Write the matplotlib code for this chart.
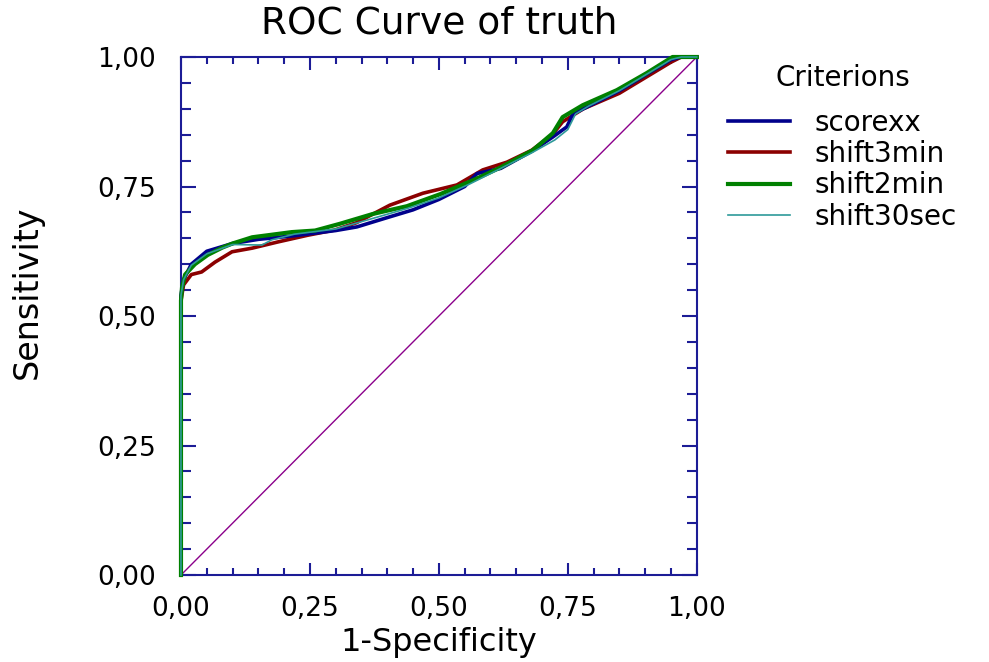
import matplotlib.pyplot as plt
from matplotlib.ticker import MultipleLocator, FuncFormatter

# ROC points (1-specificity, sensitivity)
fpr_scorexx = [0, 0, 0.005, 0.02, 0.05, 0.10, 0.15, 0.22, 0.30, 0.341, 0.40, 0.45, 0.50, 0.55, 0.574,
               0.62, 0.68, 0.72, 0.748, 0.76, 0.79, 0.85, 0.90, 0.95, 0.97, 1.0]
tpr_scorexx = [0, 0.54, 0.57, 0.60, 0.625, 0.64, 0.648, 0.655, 0.665, 0.672, 0.69, 0.705, 0.725, 0.75, 0.775,
               0.785, 0.818, 0.845, 0.865, 0.89, 0.905, 0.935, 0.965, 0.995, 1.0, 1.0]

fpr_shift3min = [0, 0, 0.005, 0.02, 0.04, 0.066, 0.099, 0.138, 0.188, 0.246, 0.298, 0.34, 0.405, 0.469,
                 0.535, 0.585, 0.632, 0.68, 0.72, 0.74, 0.78, 0.85, 0.90, 0.95, 0.97, 1.0]
tpr_shift3min = [0, 0.53, 0.56, 0.58, 0.585, 0.604, 0.624, 0.631, 0.643, 0.656, 0.666, 0.68, 0.714, 0.737,
                 0.753, 0.782, 0.797, 0.82, 0.85, 0.875, 0.90, 0.93, 0.96, 0.99, 1.0, 1.0]

fpr_shift2min = [0, 0, 0.002, 0.008, 0.027, 0.052, 0.08, 0.10, 0.138, 0.215, 0.26, 0.308, 0.372, 0.438,
                 0.502, 0.566, 0.618, 0.682, 0.721, 0.74, 0.779, 0.845, 0.903, 0.953, 1.0]
tpr_shift2min = [0, 0.53, 0.555, 0.58, 0.60, 0.618, 0.632, 0.64, 0.652, 0.662, 0.665, 0.678, 0.697, 0.712,
                 0.735, 0.762, 0.786, 0.82, 0.853, 0.884, 0.907, 0.936, 0.969, 1.0, 1.0]

fpr_shift30sec = [0, 0, 0.005, 0.02, 0.05, 0.10, 0.157, 0.176, 0.22, 0.30, 0.36, 0.44, 0.50, 0.56, 0.62,
                  0.68, 0.725, 0.75, 0.765, 0.79, 0.85, 0.90, 0.95, 0.97, 1.0]
tpr_shift30sec = [0, 0.54, 0.57, 0.598, 0.62, 0.638, 0.637, 0.647, 0.658, 0.668, 0.685, 0.708, 0.728, 0.755,
                  0.785, 0.815, 0.84, 0.86, 0.89, 0.905, 0.935, 0.965, 0.995, 1.0, 1.0]

plt.rcParams['font.family'] = ['DejaVu Sans']
navy = '#1c1c96'

fig = plt.figure(figsize=(9.89, 6.62), dpi=100)
ax = fig.add_axes([0.183, 0.1314, 0.5215, 0.7825])

ax.plot([0, 1], [0, 1], color='#8b008b', lw=1.0, zorder=1)
ax.plot(fpr_shift3min, tpr_shift3min, color='#8b0000', lw=2.6, label='shift3min', clip_on=False, zorder=2)
ax.plot(fpr_scorexx, tpr_scorexx, color='#00008b', lw=2.6, label='scorexx', clip_on=False, zorder=3)
ax.plot(fpr_shift30sec, tpr_shift30sec, color='#2e9a9a', lw=1.2, label='shift30sec', clip_on=False, zorder=5)
ax.plot(fpr_shift2min, tpr_shift2min, color='#008000', lw=3.0, label='shift2min', clip_on=False, zorder=4)

ax.set_xlim(0, 1)
ax.set_ylim(0, 1)
ax.xaxis.set_major_locator(MultipleLocator(0.25))
ax.yaxis.set_major_locator(MultipleLocator(0.25))
ax.xaxis.set_minor_locator(MultipleLocator(0.05))
ax.yaxis.set_minor_locator(MultipleLocator(0.05))
fmt = FuncFormatter(lambda v, p: ('%.2f' % v).replace('.', ','))
ax.xaxis.set_major_formatter(fmt)
ax.yaxis.set_major_formatter(fmt)

for s in ax.spines.values():
    s.set_color(navy)
    s.set_linewidth(1.5)
ax.tick_params(which='both', direction='in', top=True, right=True, color=navy, width=1.5,
               labelsize=19)
ax.tick_params(axis='x', which='major', length=9, pad=15)
ax.tick_params(axis='x', which='minor', length=5)
ax.tick_params(axis='y', which='major', length=11, pad=18)
ax.tick_params(axis='y', which='minor', length=7)

ax.set_title('ROC Curve of truth', fontsize=27, pad=17)
ax.set_xlabel('1-Specificity', fontsize=23, va='center')
ax.set_ylabel('Sensitivity', fontsize=24, va='center')
ax.xaxis.set_label_coords(0.5, -0.13)
ax.yaxis.set_label_coords(-0.298, 0.546)

h, l = ax.get_legend_handles_labels()
order = [l.index(n) for n in ['scorexx', 'shift3min', 'shift2min', 'shift30sec']]
leg = ax.legend([h[i] for i in order], [l[i] for i in order], loc='upper left',
                bbox_to_anchor=(1.04, 1.008), frameon=False, fontsize=20, title='Criterions',
                title_fontsize=20, handlelength=2.2, handletextpad=0.9, labelspacing=0.12,
                borderaxespad=0)
leg._legend_box.sep = 12

fig.savefig('out.png', dpi=100)
